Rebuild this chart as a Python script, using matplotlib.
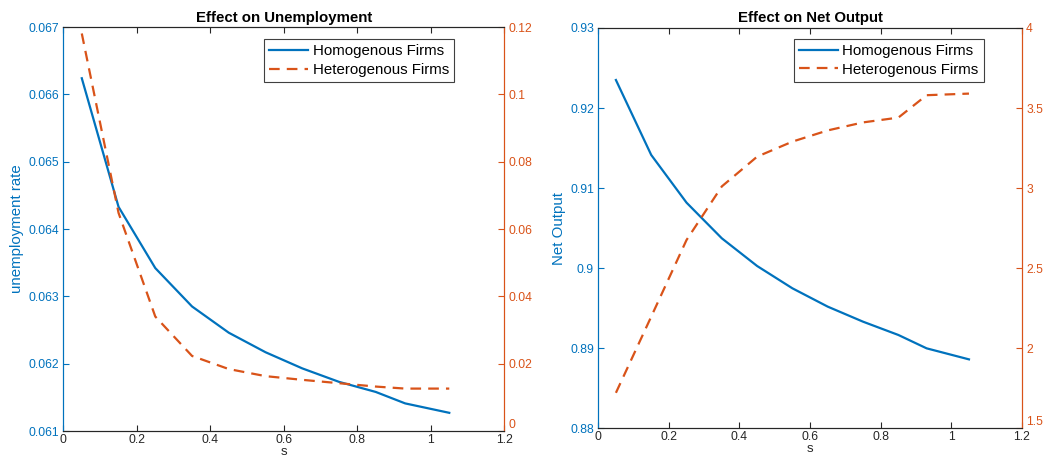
"""Draws the effect of s on unemployment and on net output."""

import matplotlib

matplotlib.use("Agg")
import matplotlib.pyplot as plt
from matplotlib.ticker import FuncFormatter


BLUE = "#0072BD"
ORANGE = "#D95319"
DARK = "#262626"

S_VALUES = [0.05, 0.15, 0.25, 0.35, 0.45, 0.55, 0.65, 0.75, 0.85, 0.93, 1.05]

UNEMP_HOMOGENOUS = [
    0.06624, 0.06433, 0.06342, 0.06285, 0.06246, 0.06217,
    0.06193, 0.06173, 0.06158, 0.06141, 0.06127,
]
UNEMP_HETEROGENOUS = [
    0.1181, 0.0648, 0.0340, 0.0223, 0.0184, 0.0163,
    0.0152, 0.0142, 0.0132, 0.0126, 0.0126,
]

OUTPUT_HOMOGENOUS = [
    0.9235, 0.91413, 0.90817, 0.90371, 0.90025, 0.89746,
    0.89517, 0.89329, 0.89163, 0.88996, 0.88858,
]
OUTPUT_HETEROGENOUS = [
    1.72, 2.196, 2.675, 3.01, 3.196, 3.29,
    3.36, 3.41, 3.44, 3.58, 3.59,
]

X_TICKS = [0, 0.2, 0.4, 0.6, 0.8, 1.0, 1.2]
UNEMP_TICKS = [0.061, 0.062, 0.063, 0.064, 0.065, 0.066, 0.067]
UNEMP_RIGHT_TICKS = [0, 0.02, 0.04, 0.06, 0.08, 0.1, 0.12]
OUTPUT_TICKS = [0.88, 0.89, 0.9, 0.91, 0.92, 0.93]
OUTPUT_RIGHT_TICKS = [1.5, 2, 2.5, 3, 3.5, 4]

plt.rcParams["font.family"] = ["Liberation Sans", "DejaVu Sans"]


def main():
    figure = plt.figure(figsize=(10.43, 4.59), dpi=100)

    left = figure.add_axes([0.0608, 0.061, 0.4228, 0.880])
    _draw_panel(
        left,
        "Effect on Unemployment",
        "unemployment rate",
        UNEMP_HOMOGENOUS,
        UNEMP_HETEROGENOUS,
        UNEMP_TICKS,
        UNEMP_RIGHT_TICKS,
        legend_anchor=(0.886, 0.970),
    )

    right = figure.add_axes([0.5736, 0.0675, 0.4062, 0.8715])
    _draw_panel(
        right,
        "Effect on Net Output",
        "Net Output",
        OUTPUT_HOMOGENOUS,
        OUTPUT_HETEROGENOUS,
        OUTPUT_TICKS,
        OUTPUT_RIGHT_TICKS,
        legend_anchor=(0.910, 0.9725),
    )

    figure.savefig("out.png", dpi=100)
    return 0


# -----------------------------------------------------------------------------
#                                                       implementation details
# -----------------------------------------------------------------------------
def _g(value, _pos=None):
    return f"{value:g}"


def _draw_panel(axes, title, ylabel, homogenous, heterogenous, lticks, rticks,
                legend_anchor):
    twin = axes.twinx()

    (line_a,) = axes.plot(
        S_VALUES, homogenous, color=BLUE, linewidth=1.6,
        label="Homogenous Firms",
    )
    (line_b,) = twin.plot(
        S_VALUES, heterogenous, color=ORANGE, linewidth=1.6,
        linestyle=(0, (4.8, 3.2)), label="Heterogenous Firms",
    )

    axes.set_xlim(X_TICKS[0], X_TICKS[-1])
    axes.set_xticks(X_TICKS)
    axes.xaxis.set_major_formatter(FuncFormatter(_g))
    axes.set_ylim(lticks[0], lticks[-1])
    axes.set_yticks(lticks)
    axes.yaxis.set_major_formatter(FuncFormatter(_g))
    twin.set_ylim(rticks[0], rticks[-1])
    twin.set_yticks(rticks)
    twin.yaxis.set_major_formatter(FuncFormatter(_g))

    axes.set_title(title, fontsize=10.8, fontweight="bold", color="black",
                   pad=4)
    axes.set_xlabel("s", fontsize=9.5, color=DARK, labelpad=0)
    axes.set_ylabel(ylabel, fontsize=10.8, color=BLUE, labelpad=3)

    axes.tick_params(axis="x", direction="in", top=True, length=4,
                     labelsize=8.7, colors=DARK, pad=2.5)
    axes.tick_params(axis="y", direction="in", length=4, labelsize=8.7,
                     colors=BLUE, pad=3)
    twin.tick_params(axis="y", direction="in", length=4, labelsize=8.7,
                     colors=ORANGE, pad=3)
    # the lowest right-hand label sits just above its tick, as in MATLAB
    twin.yaxis.get_major_ticks()[0].label2.set_verticalalignment("bottom")

    for spine_axes in (axes, twin):
        spine_axes.spines["top"].set_color(DARK)
        spine_axes.spines["bottom"].set_color(DARK)
        spine_axes.spines["left"].set_color(BLUE)
        spine_axes.spines["right"].set_color(ORANGE)
        for spine in spine_axes.spines.values():
            spine.set_linewidth(0.8)

    legend = twin.legend(
        handles=[line_a, line_b],
        loc="upper right",
        bbox_to_anchor=legend_anchor,
        fontsize=10.8,
        fancybox=False,
        framealpha=1,
        edgecolor="#404040",
        handlelength=2.6,
        handletextpad=0.3,
        borderpad=0.35,
        labelspacing=0.3,
        borderaxespad=0,
    )
    legend.get_frame().set_linewidth(0.8)


if __name__ == "__main__":
    main()
